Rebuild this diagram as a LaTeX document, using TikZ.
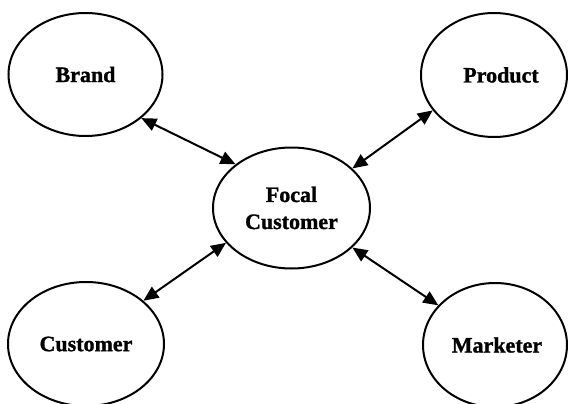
\documentclass[tikz,border=0pt]{standalone}
\usepackage{fontspec}
\setmainfont{Liberation Serif}[BoldFeatures={FakeBold=1.2}]
\usetikzlibrary{arrows.meta,shapes.geometric}
\begin{document}
\begin{tikzpicture}[x=1pt,y=-1pt,
  bubble/.style={ellipse,draw=black,line width=2pt,inner sep=0pt,
    font=\fontsize{22}{27}\selectfont\bfseries,align=center},
  link/.style={line width=2pt,{Triangle[length=15pt,width=13pt]}-{Triangle[length=15pt,width=13pt]}}]
  \fill[white] (0,0) rectangle (568,404);
  \useasboundingbox (0,0) rectangle (568,404);
  \node[bubble,minimum width=154pt,minimum height=123pt] (brand) at (85.5,74.5) {Brand};
  \node[bubble,minimum width=146pt,minimum height=124pt] (product) at (494,75) {\hspace*{14pt}Product};
  \node[bubble,minimum width=157pt,minimum height=121pt] (focal) at (291.5,208) {Focal\\Customer};
  \node[bubble,minimum width=156pt,minimum height=124pt] (customer) at (86,344) {Customer};
  \node[bubble,minimum width=144pt,minimum height=124pt] (marketer) at (495,345) {\hspace*{4pt}Marketer};
  \draw[link] (brand.-38) -- (focal.142);
  \draw[link] (product.210) -- (focal.33);
  \draw[link] (customer.37) -- (focal.208);
  \draw[link] (focal.-33) -- (marketer.145);
\end{tikzpicture}
\end{document}
